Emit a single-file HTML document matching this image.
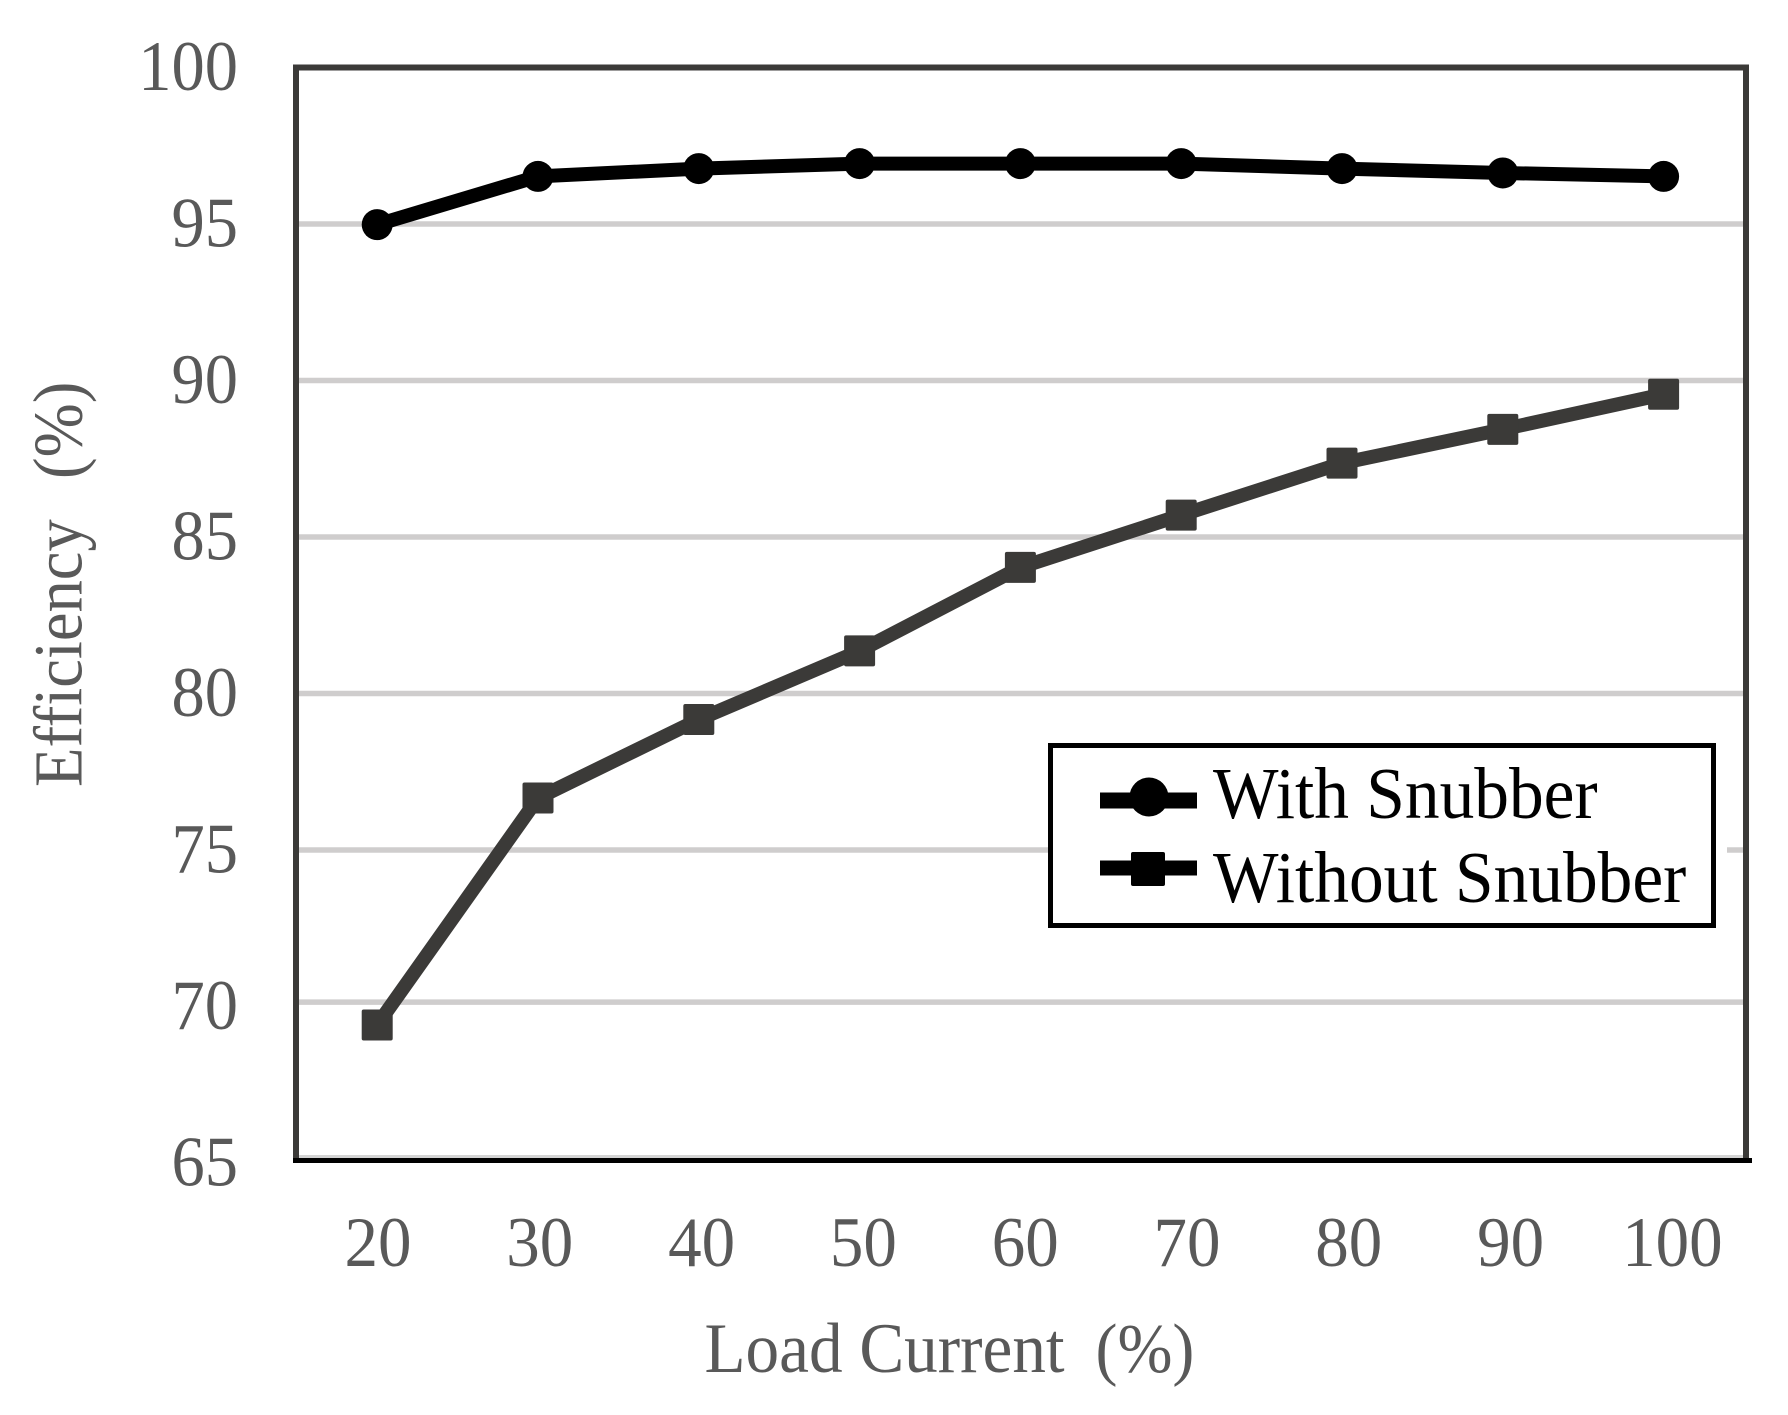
<!DOCTYPE html>
<html>
<head>
<meta charset="utf-8">
<style>
html,body{margin:0;padding:0;background:#fff;}
svg{display:block;}
text{font-family:"Liberation Serif",serif;white-space:pre;}
</style>
</head>
<body>
<svg id="chart" width="1788" height="1415" viewBox="0 0 1788 1415" xmlns="http://www.w3.org/2000/svg">
<rect width="1788" height="1415" fill="#fff"/>
<g id="grid"></g>
<path d="M296 1160V67.5H1746V1160" fill="none" stroke="#3b3a38" stroke-width="6"/>
<line x1="293" x2="1752" y1="1160.5" y2="1160.5" stroke="#000" stroke-width="5"/>
<g id="series"></g>
<g id="yticks"></g>
<g id="xticks"></g>
<text transform="translate(704.5,1372) scale(1,1.06)" font-size="67.2" fill="#595959">Load Current<tspan x="391" font-size="66">(%)</tspan></text>
<text transform="translate(81.5,787) rotate(-90) scale(1,1.07)" font-size="64.6" fill="#595959">Efficiency<tspan x="308" font-size="65">(%)</tspan></text>
<g>
  <rect x="1048" y="743" width="679" height="185" fill="#fff"/>
  <rect x="1050.5" y="745.5" width="663" height="180" fill="#fff" stroke="#000" stroke-width="5"/>
  <line x1="1100" x2="1197" y1="800.5" y2="800.5" stroke="#000" stroke-width="16"/>
  <circle cx="1149" cy="797" r="19.5" fill="#000"/>
  <text transform="translate(1213,818) scale(1,1.06)" font-size="69.4" fill="#000">With Snubber</text>
  <line x1="1100" x2="1197" y1="868" y2="868" stroke="#000" stroke-width="15"/>
  <rect x="1131" y="852" width="34" height="34" rx="2" fill="#000"/>
  <text transform="translate(1213,902) scale(1,1.06)" font-size="69.4" fill="#000">Without Snubber</text>
</g>
</svg>
<script>
const categories = [20, 30, 40, 50, 60, 70, 80, 90, 100];
const withSnubber = [94.98, 96.52, 96.77, 96.93, 96.93, 96.93, 96.77, 96.63, 96.52];
const withoutSnubber = [69.41, 76.66, 79.17, 81.36, 84.03, 85.7, 87.36, 88.44, 89.56];
const yTickLabels = [100, 95, 90, 85, 80, 75, 70, 65];
const gridValues = [95, 90, 85, 80, 75, 70.14];

const NS = 'http://www.w3.org/2000/svg';
function yScale(v) { return 67.5 + (100 - v) * 31.3; }
function xScale(i) { return 377.2 + i * 160.8; }
function xLabelScale(i) { return 378 + i * 161.8; }
function make(tag, parent) {
  const el = document.createElementNS(NS, tag);
  parent.appendChild(el);
  return el;
}
function set(el, attrs) { for (const k in attrs) el.setAttribute(k, attrs[k]); }

const grid = document.getElementById('grid');
gridValues.forEach(function (v) {
  const l = make('line', grid);
  
  
  set(l, { x1: 297, x2: 1746, y1: yScale(v), y2: yScale(v), stroke: '#cfcdcd', 'stroke-width': 5.5 });
});
const baseGrid = make('line', grid);


set(baseGrid, { x1: 297, x2: 1746, y1: 1156.5, y2: 1156.5, stroke: '#d4d4d4', 'stroke-width': 3 });

const yticks = document.getElementById('yticks');
yTickLabels.forEach(function (v) {
  const t = make('text', yticks);
  
  
  set(t, { transform: 'translate(238,' + (yScale(v) + 22.5) + ') scale(1,1.07)', 'text-anchor': 'end', 'font-size': 66.5, fill: '#595959' });
  t.textContent = v;
});

const xticks = document.getElementById('xticks');
categories.forEach(function (c, i) {
  const t = make('text', xticks);
  
  
  set(t, { transform: 'translate(' + xLabelScale(i) + ',1266) scale(1,1.065)', 'text-anchor': 'middle', 'font-size': 67, fill: '#595959' });
  t.textContent = c;
});

const series = document.getElementById('series');
function pointsOf(vals) {
  return vals.map(function (v, i) { return xScale(i) + ',' + yScale(v); }).join(' ');
}

const lineA = make('polyline', series);


set(lineA, { points: pointsOf(withSnubber), fill: 'none', stroke: '#000', 'stroke-width': 14, 'stroke-linejoin': 'round' });
withSnubber.forEach(function (v, i) {
  const c = make('circle', series);
  
  
  set(c, { cx: xScale(i), cy: yScale(v), r: 15.5, fill: '#000' });
});

const lineB = make('polyline', series);


set(lineB, { points: pointsOf(withoutSnubber), fill: 'none', stroke: '#3b3a38', 'stroke-width': 14, 'stroke-linejoin': 'round' });
withoutSnubber.forEach(function (v, i) {
  const r = make('rect', series);
  
  
  set(r, { x: xScale(i) - 15.5, y: yScale(v) - 15.5, width: 31, height: 31, rx: 2, fill: '#3b3a38' });
});
</script>
</body>
</html>
